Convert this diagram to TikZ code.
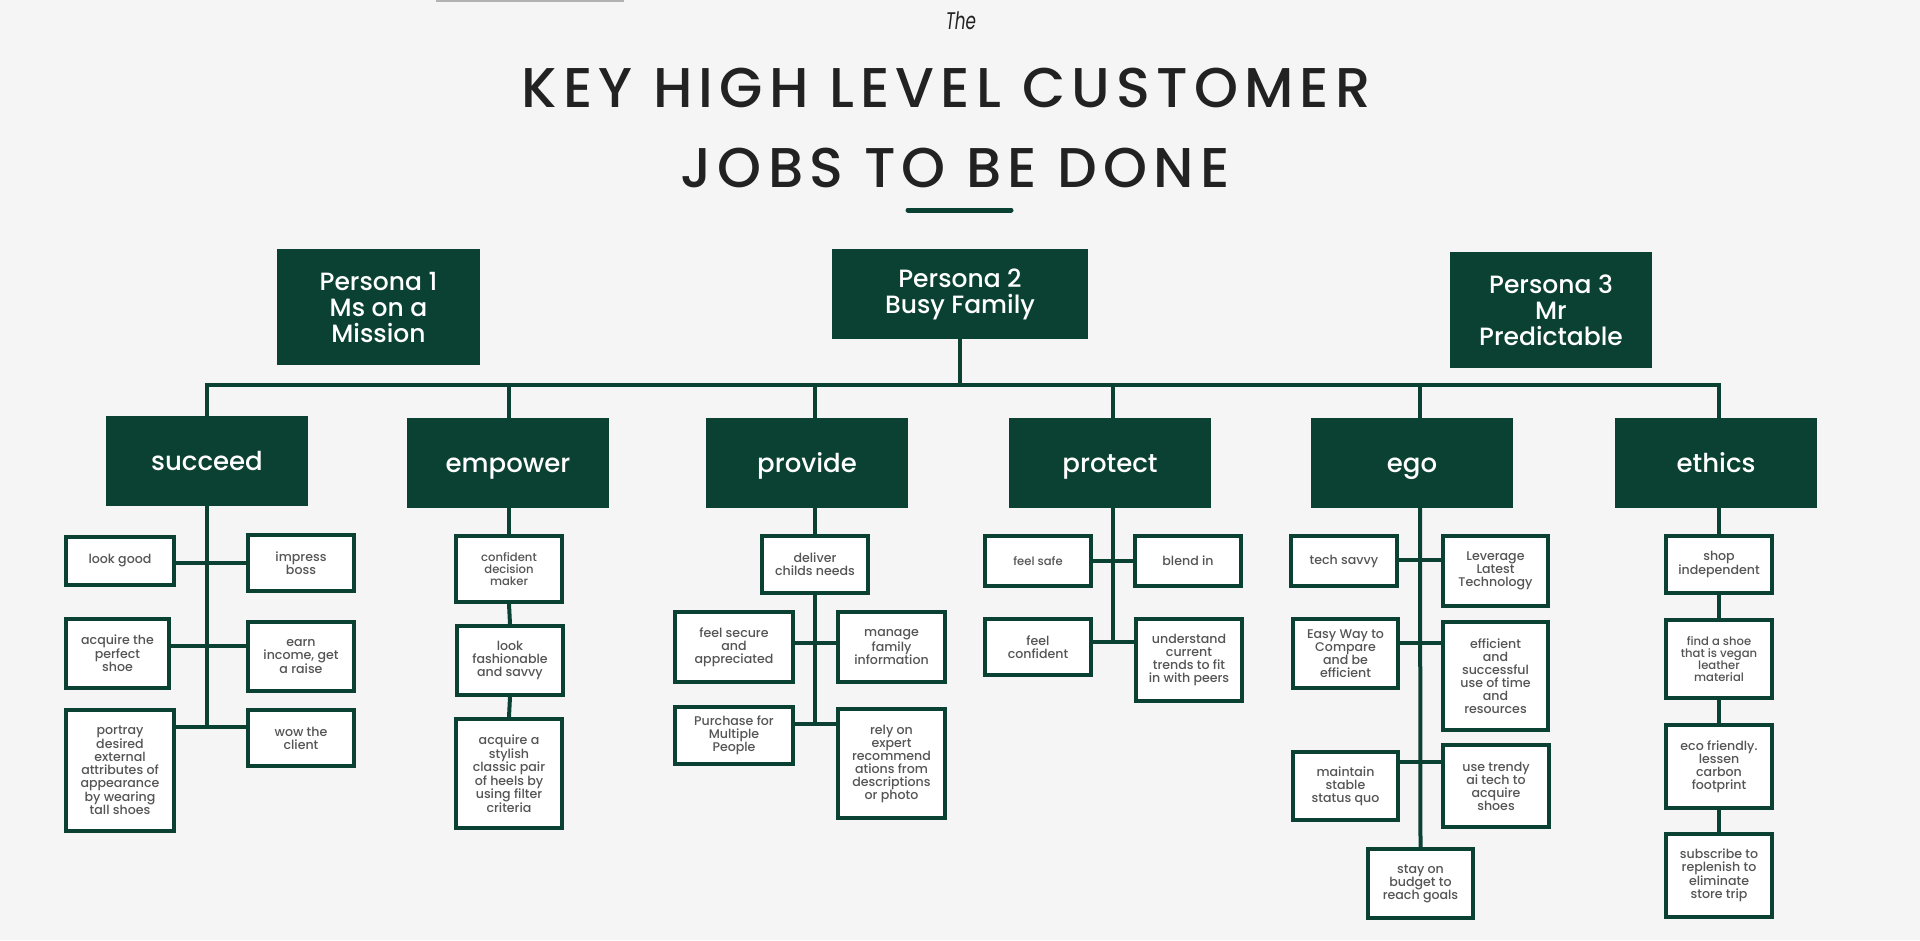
\documentclass[tikz,border=0pt]{standalone}
\usepackage{fontspec}
\setmainfont{Poppins}
\newfontfamily\pmed{Poppins Medium}
\newfontfamily\ptitle{Poppins Medium}[LetterSpace=11]
\definecolor{bg}{HTML}{F5F5F5}
\definecolor{jg}{HTML}{0B4133}
\definecolor{tx}{HTML}{555555}
\definecolor{ttl}{HTML}{222222}
\tikzset{
  cat/.style={fill=jg, text=white, inner sep=0pt, minimum width=202pt, minimum height=90pt, text height=19.5pt, text depth=0pt, font=\pmed\fontsize{26}{28}\selectfont},
  persona/.style={fill=jg, text=white, align=center, inner sep=0pt, font=\pmed\fontsize{25}{26}\selectfont},
  sub/.style={draw=jg, line width=4pt, fill=white, align=center, inner sep=0pt, text=tx, font=\pmed\fontsize{12.6}{13}\selectfont},
  subsm/.style={sub, font=\pmed\fontsize{11.6}{12}\selectfont},
  conn/.style={draw=jg, line width=4pt},
  titletext/.style={anchor=base, text=ttl, font=\ptitle\fontsize{56}{58}\selectfont},
}
\begin{document}
\begin{tikzpicture}[x=1pt,y=-1pt]
\fill[bg] (0,0) rectangle (1920,940);
\useasboundingbox (0,0) rectangle (1920,940);
\fill[black!30] (436,0) rectangle (624,2);
% titles
\node[anchor=base, font=\itshape\fontsize{24}{26}\selectfont, text=ttl] (the) at (961,29) {\scalebox{0.7}[1]{The}};
\node[titletext] (t1) at (946,107) {KEY HIGH LEVEL CUSTOMER};
\node[titletext] (t2) at (955,187) {JOBS TO BE DONE};
\draw[jg, line width=5pt, line cap=round] (908,210) coordinate (ul1) -- (1011,210) coordinate (ul2);
% personas
\node[persona, minimum width=203pt, minimum height=116pt] (p1) at (378.5,307) {Persona 1\\Ms on a\\Mission};
\node[persona, minimum width=256pt, minimum height=90pt] (p2) at (960,294) {Persona 2\\Busy Family};
\node[persona, minimum width=202pt, minimum height=116pt] (p3) at (1551,310) {Persona 3\\Mr\\Predictable};
% categories
\node[cat] (succeed) at (207,461) {succeed};
\node[cat] (empower) at (508,463) {empower};
\node[cat] (provide) at (807,463) {provide};
\node[cat] (protect) at (1110,463) {protect};
\node[cat] (ego) at (1412,463) {ego};
\node[cat] (ethics) at (1716,463) {ethics};
% drop coordinates
\coordinate (c1t) at (207,416); \coordinate (c1b) at (207,506);
\coordinate (c2t) at (509,418); \coordinate (c2b) at (509,508);
\coordinate (c3t) at (815,418); \coordinate (c3b) at (815,508);
\coordinate (c4t) at (1113,418); \coordinate (c4b) at (1113,508);
\coordinate (c5t) at (1420,418); \coordinate (c5b) at (1420,508);
\coordinate (c6t) at (1719,418); \coordinate (c6b) at (1719,508);
\coordinate (busR) at (1719,385);
% succeed items
\node[sub, minimum width=108pt, minimum height=48pt] (s1) at (120,561) {look good};
\node[sub, minimum width=106pt, minimum height=56pt] (s2) at (301,563) {impress\\boss};
\node[sub, minimum width=103pt, minimum height=69pt] (s3) at (117.5,653.5) {acquire the\\perfect\\shoe};
\node[sub, minimum width=106pt, minimum height=69pt] (s4) at (301,656.5) {earn\\income, get\\a raise};
\node[sub, minimum width=108pt, minimum height=121pt] (s5) at (120,770.5) {portray\\desired\\external\\attributes of\\appearance\\by wearing\\tall shoes};
\node[sub, minimum width=106pt, minimum height=56pt] (s6) at (301,738) {wow the\\client};
% empower items
\node[subsm, minimum width=106pt, minimum height=66pt] (e1) at (509,569) {confident\\decision\\maker};
\node[sub, minimum width=106pt, minimum height=69pt] (e2) at (510,660.5) {look\\fashionable\\and savvy};
\node[sub, minimum width=106pt, minimum height=109pt] (e3) at (509,773.5) {acquire a\\stylish\\classic pair\\of heels by\\using filter\\criteria};
% provide items
\node[sub, minimum width=106pt, minimum height=57pt] (v1) at (815,564.5) {deliver\\childs needs};
\node[sub, minimum width=118pt, minimum height=70pt] (v2) at (734,647) {feel secure\\and\\appreciated};
\node[sub, minimum width=107pt, minimum height=70pt] (v3) at (891.5,647) {manage\\family\\information};
\node[sub, minimum width=118pt, minimum height=57pt] (v4) at (734,735.5) {Purchase for\\Multiple\\People};
\node[sub, minimum width=107pt, minimum height=109pt] (v5) at (891.5,763.5) {rely on\\expert\\recommend\\ations from\\descriptions\\or photo};
% protect items
\node[subsm, minimum width=106pt, minimum height=50pt] (r1) at (1038,561) {feel safe};
\node[sub, minimum width=106pt, minimum height=50pt] (r2) at (1188,561) {blend in};
\node[sub, minimum width=106pt, minimum height=56pt] (r3) at (1038,647) {feel\\confident};
\node[sub, minimum width=106pt, minimum height=82pt] (r4) at (1189,660) {understand\\current\\trends to fit\\in with peers};
% ego items
\node[sub, minimum width=106pt, minimum height=50pt] (g1) at (1344,561) {tech savvy};
\node[sub, minimum width=105pt, minimum height=70pt] (g2) at (1495.5,571) {Leverage\\Latest\\Technology};
\node[sub, minimum width=105pt, minimum height=69pt] (g3) at (1345.5,653.5) {Easy Way to\\Compare\\and be\\efficient};
\node[sub, minimum width=105pt, minimum height=108pt] (g4) at (1495.5,676) {efficient\\and\\successful\\use of time\\and\\resources};
\node[sub, minimum width=105pt, minimum height=68pt] (g5) at (1345.5,786) {maintain\\stable\\status quo};
\node[sub, minimum width=106pt, minimum height=82pt] (g6) at (1496,786) {use trendy\\ai tech to\\acquire\\shoes};
\node[sub, minimum width=105pt, minimum height=69pt] (g7) at (1420.5,883.5) {stay on\\budget to\\reach goals};
% ethics items
\node[sub, minimum width=106pt, minimum height=57pt] (h1) at (1719,564.5) {shop\\independent};
\node[subsm, minimum width=106pt, minimum height=78pt] (h2) at (1719,659) {find a shoe\\that is vegan\\leather\\material};
\node[sub, minimum width=106pt, minimum height=83pt] (h3) at (1719,766.5) {eco friendly.\\lessen\\carbon\\footprint};
\node[sub, minimum width=106pt, minimum height=83pt] (h4) at (1719,875.5) {subscribe to\\replenish to\\eliminate\\store trip};
% bus
\draw[conn] (c1t) |- (busR) -- (c6t);
\draw[conn] (p2.south) -- (p2.south |- busR);
\foreach \c in {c2t,c3t,c4t,c5t} \draw[conn] (\c) -- (\c |- busR);
% succeed tree
\coordinate (sb1) at (207,563); \coordinate (sb2) at (207,646); \coordinate (sb3) at (207,727);
\draw[conn] (c1b) -- (sb3);
\draw[conn] (s1.east |- sb1) -- (s2.west |- sb1);
\draw[conn] (s3.east |- sb2) -- (s4.west |- sb2);
\draw[conn] (s5.east |- sb3) -- (s6.west |- sb3);
% empower chain
\draw[conn] (c2b) -- (e1.north);
\draw[conn] (e1.south) -- (e2.north);
\draw[conn] (e2.south) -- (e3.north);
% provide tree
\draw[conn] (c3b) -- (v1.north);
\coordinate (vb1) at (815,643); \coordinate (vb2) at (815,724);
\draw[conn] (v1.south) -- (vb2);
\draw[conn] (v2.east |- vb1) -- (v3.west |- vb1);
\draw[conn] (v4.east |- vb2) -- (v5.west |- vb2);
% protect tree
\coordinate (rb1) at (1113,561); \coordinate (rb2) at (1113,642);
\draw[conn] (c4b) -- (rb2);
\draw[conn] (r1.east |- rb1) -- (r2.west |- rb1);
\draw[conn] (r3.east |- rb2) -- (r4.west |- rb2);
% ego tree
\coordinate (gb1) at (1420,560); \coordinate (gb2) at (1420,643); \coordinate (gb3) at (1420,762);
\draw[conn] (c5b) -- (g7.north);
\draw[conn] (g1.east |- gb1) -- (g2.west |- gb1);
\draw[conn] (g3.east |- gb2) -- (g4.west |- gb2);
\draw[conn] (g5.east |- gb3) -- (g6.west |- gb3);
% ethics chain
\draw[conn] (c6b) -- (h1.north);
\draw[conn] (h1.south) -- (h2.north);
\draw[conn] (h2.south) -- (h3.north);
\draw[conn] (h3.south) -- (h4.north);
\end{tikzpicture}
\end{document}
